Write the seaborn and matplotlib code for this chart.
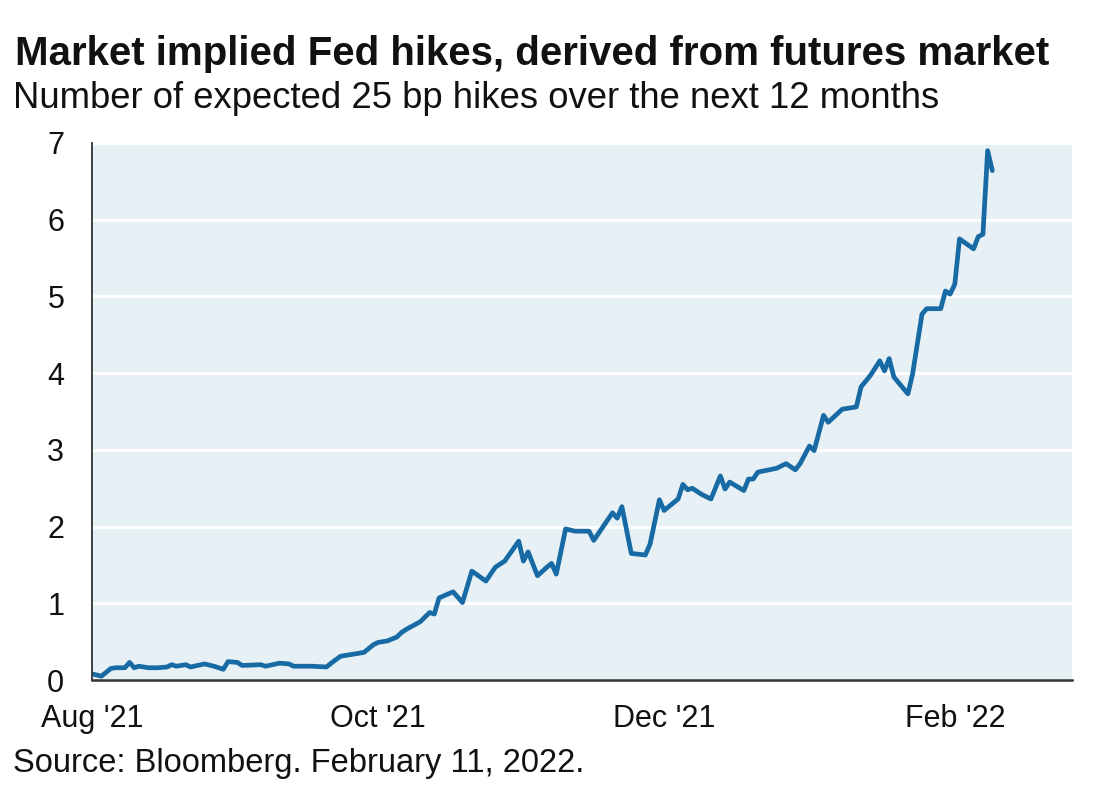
import pandas as pd
import matplotlib.pyplot as plt
import seaborn as sns

# (approximate)
dates = [
    "2021-08-01", "2021-08-03", "2021-08-05", "2021-08-06", "2021-08-08", "2021-08-09",
    "2021-08-10", "2021-08-11", "2021-08-13", "2021-08-15", "2021-08-17", "2021-08-18",
    "2021-08-19", "2021-08-21", "2021-08-22", "2021-08-25", "2021-08-27", "2021-08-29",
    "2021-08-30", "2021-09-01", "2021-09-02", "2021-09-06", "2021-09-07", "2021-09-10",
    "2021-09-12", "2021-09-13", "2021-09-17", "2021-09-20", "2021-09-21", "2021-09-23",
    "2021-09-25", "2021-09-28", "2021-09-30", "2021-10-01", "2021-10-03", "2021-10-05",
    "2021-10-06", "2021-10-07", "2021-10-10", "2021-10-12", "2021-10-13", "2021-10-14",
    "2021-10-17", "2021-10-19", "2021-10-21", "2021-10-24", "2021-10-26", "2021-10-28",
    "2021-10-31", "2021-11-01", "2021-11-02", "2021-11-04", "2021-11-06", "2021-11-07",
    "2021-11-08", "2021-11-10", "2021-11-12", "2021-11-15", "2021-11-16", "2021-11-18",
    "2021-11-20", "2021-11-21", "2021-11-22", "2021-11-24", "2021-11-27", "2021-11-28",
    "2021-11-30", "2021-12-01", "2021-12-04", "2021-12-05", "2021-12-06", "2021-12-07",
    "2021-12-09", "2021-12-11", "2021-12-13", "2021-12-14", "2021-12-15", "2021-12-18",
    "2021-12-19", "2021-12-20", "2021-12-21", "2021-12-25", "2021-12-27", "2021-12-29",
    "2021-12-30", "2022-01-01", "2022-01-02", "2022-01-04", "2022-01-05", "2022-01-08",
    "2022-01-11", "2022-01-12", "2022-01-14", "2022-01-16", "2022-01-17", "2022-01-18",
    "2022-01-19", "2022-01-22", "2022-01-23", "2022-01-25", "2022-01-26", "2022-01-29",
    "2022-01-30", "2022-01-31", "2022-02-01", "2022-02-02", "2022-02-05", "2022-02-06",
    "2022-02-07", "2022-02-08", "2022-02-09",
]
hikes = [
    0.08, 0.05, 0.15, 0.16, 0.16, 0.23,
    0.16, 0.18, 0.16, 0.16, 0.17, 0.20,
    0.18, 0.20, 0.17, 0.21, 0.18, 0.14,
    0.24, 0.23, 0.19, 0.20, 0.18, 0.22,
    0.21, 0.18, 0.18, 0.17, 0.22, 0.31,
    0.33, 0.36, 0.46, 0.49, 0.51, 0.56,
    0.62, 0.66, 0.76, 0.88, 0.86, 1.07,
    1.15, 1.01, 1.42, 1.29, 1.47, 1.55,
    1.81, 1.55, 1.67, 1.36, 1.47, 1.52,
    1.38, 1.97, 1.94, 1.94, 1.82, 2.00,
    2.18, 2.11, 2.26, 1.65, 1.63, 1.77,
    2.35, 2.21, 2.36, 2.55, 2.48, 2.50,
    2.42, 2.36, 2.66, 2.49, 2.58, 2.47,
    2.62, 2.62, 2.71, 2.76, 2.82, 2.74,
    2.82, 3.05, 2.99, 3.45, 3.36, 3.53,
    3.56, 3.82, 3.97, 4.16, 4.03, 4.19,
    3.95, 3.73, 3.99, 4.77, 4.84, 4.84,
    5.07, 5.03, 5.16, 5.75, 5.62, 5.78,
    5.81, 6.90, 6.64,
]

tick_dates = ["2021-08-01", "2021-10-01", "2021-12-01", "2022-02-01"]
tick_labels = ["Aug '21", "Oct '21", "Dec '21", "Feb '22"]
y_ticks = [0, 1, 2, 3, 4, 5, 6, 7]

title = "Market implied Fed hikes, derived from futures market"
subtitle = "Number of expected 25 bp hikes over the next 12 months"
source = "Source: Bloomberg. February 11, 2022."

df = pd.DataFrame({"date": pd.to_datetime(dates), "hikes": hikes})

sns.set_style("white", {"axes.facecolor": "#e7f0f4"})
plt.rcParams["font.family"] = ["Liberation Sans", "DejaVu Sans"]

fig = plt.figure(figsize=(11.1, 7.9), dpi=100)
ax = fig.add_axes([0.0829, 0.1392, 0.8829, 0.6798])

sns.lineplot(data=df, x="date", y="hikes", ax=ax, color="#186aa5", linewidth=3.4)

ax.set_xlim(pd.Timestamp("2021-08-01"), pd.Timestamp("2022-02-26"))
ax.set_ylim(0, 7)
ax.set_yticks(y_ticks)
ax.set_xticks(pd.to_datetime(tick_dates))
ax.set_xticklabels(tick_labels)
ax.yaxis.grid(True, color="white", linewidth=2.2)
ax.set_axisbelow(True)
ax.set_xlabel("")
ax.set_ylabel("")

for side in ["top", "right"]:
    ax.spines[side].set_visible(False)
ax.spines["left"].set_color("#333333")
ax.spines["left"].set_linewidth(1.3)
ax.spines["bottom"].set_color("#333333")
ax.spines["bottom"].set_linewidth(1.8)

ax.tick_params(axis="both", direction="out", length=7, width=1.3,
               color="#333333", labelsize=22, labelcolor="#111111")
ax.tick_params(axis="y", pad=13)
ax.tick_params(axis="x", pad=10.5)

fig.text(0.0135, 1 - 65 / 790, title, fontsize=29, fontweight="bold",
         va="baseline", ha="left", color="#111111")
fig.text(0.012, 1 - 108 / 790, subtitle, fontsize=26.3, va="baseline",
         ha="left", color="#111111")
fig.text(0.012, 1 - 772 / 790, source, fontsize=23.5, va="baseline",
         ha="left", color="#111111")

fig.savefig("out.png", dpi=100)
